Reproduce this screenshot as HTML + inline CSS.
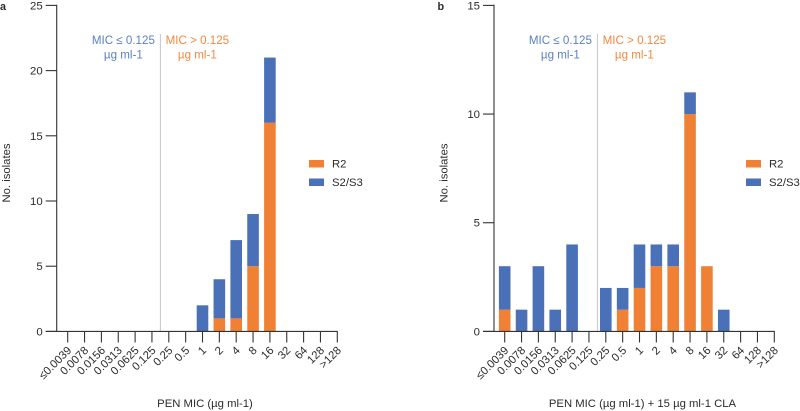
<!DOCTYPE html>
<html>
<head>
<meta charset="utf-8">
<title>PEN MIC distribution</title>
<style>
html,body{margin:0;padding:0;background:#fff;width:800px;height:411px;overflow:hidden}
svg{display:block}
text{font-family:"Liberation Sans",sans-serif;fill:#2b2b2b}
</style>
</head>
<body>
<svg id="chart" width="800" height="411" viewBox="0 0 800 411" xmlns="http://www.w3.org/2000/svg"></svg>
<script>
const categories = ['≤0.0039','0.0078','0.0156','0.0313','0.0625','0.125','0.25','0.5','1','2','4','8','16','32','64','128','>128'];
const r2A = [0,0,0,0,0,0,0,0,0,1,1,5,16,0,0,0,0];
const s2s3A = [0,0,0,0,0,0,0,0,2,3,6,4,5,0,0,0,0];
const r2B = [1,0,0,0,0,0,0,1,2,3,3,10,3,0,0,0,0];
const s2s3B = [2,1,3,1,4,0,2,1,2,1,1,1,0,1,0,0,0];
const yTicksA = [0,5,10,15,20,25];
const yTicksB = [0,5,10,15];

const NS = 'http://www.w3.org/2000/svg';
const svg = document.getElementById('chart');
const ORANGE = '#F08033', BLUE = '#4A70B7', AXIS = '#333333';

function make(parent, tag, attrs, content) {
  const el = document.createElementNS(NS, tag);
  for (const k in attrs) el.setAttribute(k, attrs[k]);
  if (content !== undefined) el.textContent = content;
  parent.appendChild(el);
  return el;
}

function panel(cfg) {
  const g = make(svg, 'g', {});
  
  
  const y0 = 331.4, yTop = 5.4, yMax = cfg.yTicks[cfg.yTicks.length - 1];
  const spacing = 16.85;
  const x = i => cfg.x0 + i * spacing;
  const y = v => y0 - (v / yMax) * (y0 - yTop);
  const barW = 11.6;

  const letter = make(g, 'text', {x: cfg.letterX, y: 10, 'font-size': 10.8, 'font-weight': 'bold', fill: '#000'}, cfg.letter);
  
  

  // threshold line
  const vl = make(g, 'line', {x1: x(5.5), x2: x(5.5), y1: 34, y2: y0, stroke: '#c4c4c4', 'stroke-width': 1});
  
  

  // bars
  categories.forEach((c, i) => {
    const a = cfg.r2[i], b = cfg.s2[i];
    if (a > 0) {
      const r = make(g, 'rect', {x: x(i) - barW / 2, y: y(a), width: barW, height: y(0) - y(a), fill: ORANGE});
      
      
    }
    if (b > 0) {
      const r = make(g, 'rect', {x: x(i) - barW / 2, y: y(a + b), width: barW, height: y(a) - y(a + b), fill: BLUE});
      
      
    }
  });

  // y axis
  const ya = make(g, 'line', {x1: cfg.axisX, x2: cfg.axisX, y1: y(yMax) - 0.6, y2: y0 + 0.6, stroke: AXIS, 'stroke-width': 1.1});
  
  
  cfg.yTicks.forEach(t => {
    const tk = make(g, 'line', {x1: cfg.axisX - 11, x2: cfg.axisX, y1: y(t), y2: y(t), stroke: AXIS, 'stroke-width': 1.1});
    
    
    const lb = make(g, 'text', {x: cfg.axisX - 14, y: y(t) + 4, 'font-size': 11.4, 'text-anchor': 'end'}, t);
    
    
  });

  // x axis
  const xa = make(g, 'line', {x1: cfg.axisX - 11, x2: x(16) + 0.5, y1: y0, y2: y0, stroke: AXIS, 'stroke-width': 1.1});
  
  
  categories.forEach((c, i) => {
    const tk = make(g, 'line', {x1: x(i), x2: x(i), y1: y0, y2: 342.5, stroke: AXIS, 'stroke-width': 1.1});
    
    
    const px = x(i) + 4.5, py = 351;
    const lb = make(g, 'text', {x: px, y: py, 'font-size': 11.3, 'text-anchor': 'end', transform: 'rotate(-45 ' + px + ' ' + py + ')'}, c);
    
    
  });

  // axis titles
  const xt = make(g, 'text', {x: cfg.xTitleX, y: 407, 'font-size': 11.3, 'text-anchor': 'middle'}, cfg.xTitle);
  
  
  const ytx = cfg.axisX - 46.5;
  const yt = make(g, 'text', {x: ytx, y: 173, 'font-size': 11.3, 'text-anchor': 'middle', transform: 'rotate(-90 ' + ytx + ' 173)'}, 'No. isolates');
  
  

  // annotations
  const nx = x(5.5);
  [['MIC ≤ 0.125', nx - 37, 44, '#5A80C4', 'note-susceptible'],
   ['µg ml-1', nx - 37, 58.5, '#5A80C4', 'note-susceptible-unit'],
   ['MIC > 0.125', nx + 37, 44, '#F4883F', 'note-resistant'],
   ['µg ml-1', nx + 37, 58.5, '#F4883F', 'note-resistant-unit']].forEach(n => {
    const t = make(g, 'text', {x: n[1], y: n[2], 'font-size': 11.6, 'text-anchor': 'middle'}, n[0]);
    t.style.fill = n[3];
    
    
  });

  // legend
  const lg = make(g, 'g', {});
  
  
  [['R2', ORANGE, 160, 167.3], ['S2/S3', BLUE, 178.5, 186]].forEach(e => {
    const s = make(lg, 'rect', {x: cfg.legendX, y: e[2], width: 15, height: 7.5, fill: e[1]});
    
    
    const t = make(lg, 'text', {x: cfg.legendX + 23, y: e[3], 'font-size': 11.3}, e[0]);
    
    
  });
}

panel({name: 'chart-a', letter: 'a', letterX: 0, axisX: 56.7, x0: 67.7, yTicks: yTicksA, r2: r2A, s2: s2s3A,
       xTitle: 'PEN MIC (µg ml-1)', xTitleX: 205, legendX: 309});
panel({name: 'chart-b', letter: 'b', letterX: 437.5, axisX: 494, x0: 504.7, yTicks: yTicksB, r2: r2B, s2: s2s3B,
       xTitle: 'PEN MIC (µg ml-1) + 15 µg ml-1 CLA', xTitleX: 642.5, legendX: 746});
</script>
</body>
</html>
